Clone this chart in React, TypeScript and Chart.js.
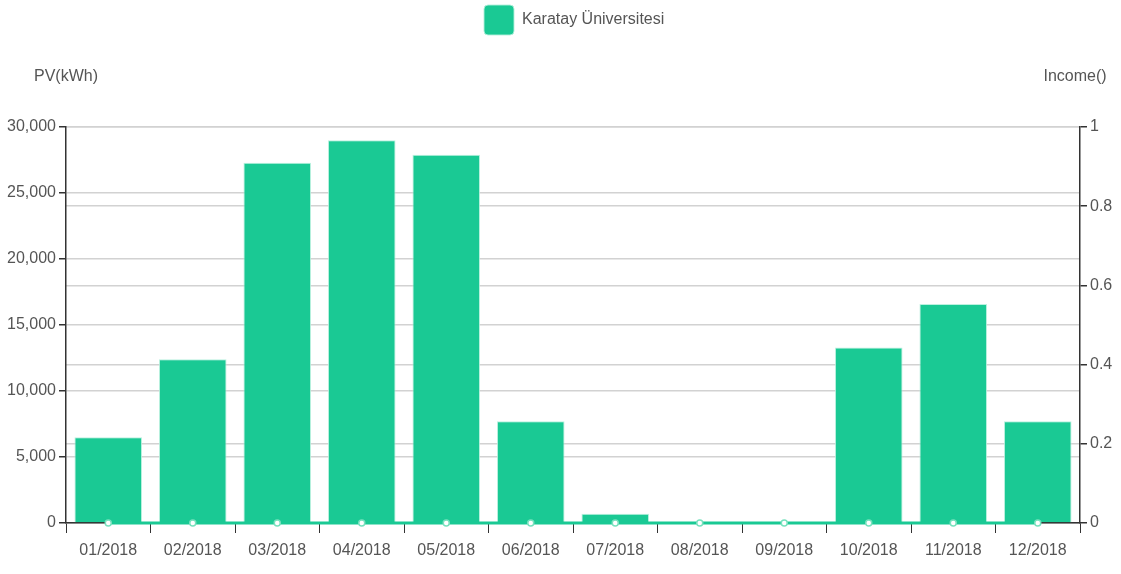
import React, { useEffect, useRef } from "react";
import { Chart, registerables } from "chart.js";

Chart.register(...registerables);

const categories = ["01/2018", "02/2018", "03/2018", "04/2018", "05/2018", "06/2018", "07/2018", "08/2018", "09/2018", "10/2018", "11/2018", "12/2018"];
const pvValues = [6500, 12400, 27300, 29000, 27900, 7700, 700, 0, 0, 13300, 16600, 7700];
const incomeValues = [0, 0, 0, 0, 0, 0, 0, 0, 0, 0, 0, 0];
const seriesName = "Karatay Üniversitesi";
const leftTitle = "PV(kWh)";
const rightTitle = "Income()";

const GREEN = "rgb(26,201,148)";
const FONT = "'Liberation Sans', Arial, sans-serif";
const TEXT = "#555";
const FS = 16;

export default function App() {
  const ref = useRef<HTMLCanvasElement | null>(null);
  useEffect(() => {
    if (!ref.current) return;
    const titlePlugin = {
      id: "axisTitles",
      beforeInit(chart: any) {
        const lg = chart.legend;
        if (lg) {
          const orig = lg.fit;
          lg.fit = function () {
            orig.call(this);
            this.height = 127;
          };
        }
      },
      beforeDraw(chart: any) {
        const lg = chart.legend;
        if (lg && lg.lineWidths && lg.lineWidths.length) {
          // center legend over the chart area
          const target = 2 * 484;
          lg.left = target - 5 - lg.right + lg.lineWidths[0];
        }
      },
      afterDraw(chart: any) {
        const ctx = chart.ctx;
        ctx.save();
        ctx.font = `${FS}px ${FONT}`;
        ctx.fillStyle = TEXT;
        ctx.textAlign = "center";
        ctx.textBaseline = "middle";
        ctx.fillText(leftTitle, chart.chartArea.left, 77);
        ctx.fillText(rightTitle, chart.chartArea.right - 5, 77);
        ctx.restore();
      },
    };
    const chart = new Chart(ref.current, {
      type: "bar",
      data: {
        labels: categories,
        datasets: [
          {
            type: "line",
            label: "Income",
            data: incomeValues,
            yAxisID: "y1",
            borderColor: GREEN,
            borderWidth: 3,
            pointRadius: 3,
            pointBackgroundColor: "#fff",
            pointBorderColor: "rgb(120,225,190)",
            pointBorderWidth: 1.5,
            clip: false,
            order: 0,
          } as any,
          {
            type: "bar",
            label: seriesName,
            data: pvValues,
            yAxisID: "y",
            backgroundColor: GREEN,
            borderColor: "rgba(180,240,220,0.9)",
            borderWidth: 1,
            barPercentage: 0.8,
            categoryPercentage: 1,
            order: 1,
          } as any,
        ],
      },
      options: {
        responsive: false,
        animation: false,
        layout: { padding: 0 },
        plugins: {
          tooltip: { enabled: false },
          legend: {
            position: "top",
            labels: {
              boxWidth: 30,
              boxHeight: 30,
              padding: 5,
              useBorderRadius: true,
              borderRadius: 4,
              color: TEXT,
              font: { family: FONT, size: FS },
              filter: (item: any) => item.text === seriesName,
            },
          } as any,
        },
        scales: {
          x: {
            offset: true,
            afterFit: (s: any) => { s.height = 51; },
            grid: { drawOnChartArea: false, drawTicks: true, tickLength: 10, tickColor: "#333", offset: true },
            border: { color: "#333", width: 1.5 },
            ticks: { color: TEXT, font: { family: FONT, size: FS }, padding: 8, maxRotation: 0 },
          },
          y: {
            position: "left",
            min: 0,
            max: 30000,
            afterFit: (s: any) => { s.width = 66; },
            grid: { color: "#d2d2d2", lineWidth: 1.5, tickLength: 7, tickColor: "#333" },
            border: { color: "#333", width: 1.5 },
            ticks: { stepSize: 5000, color: TEXT, font: { family: FONT, size: FS }, padding: 3 },
          },
          y1: {
            position: "right",
            min: 0,
            max: 1,
            afterFit: (s: any) => { s.width = 41; },
            grid: { color: "#d2d2d2", lineWidth: 1.5, tickLength: 7, tickColor: "#333" },
            border: { color: "#333", width: 1.5 },
            ticks: {
              stepSize: 0.2,
              color: TEXT,
              font: { family: FONT, size: FS },
              padding: 3,
              callback: (v: any) => String(Number(Number(v).toFixed(1))),
            },
          },
        },
      },
      plugins: [titlePlugin],
    });
    return () => chart.destroy();
  }, []);
  return (
    <div style={{ position: "absolute", left: 0, top: 0, width: 1121, height: 574 }}>
      <canvas ref={ref} width={1121} height={574} />
    </div>
  );
}
